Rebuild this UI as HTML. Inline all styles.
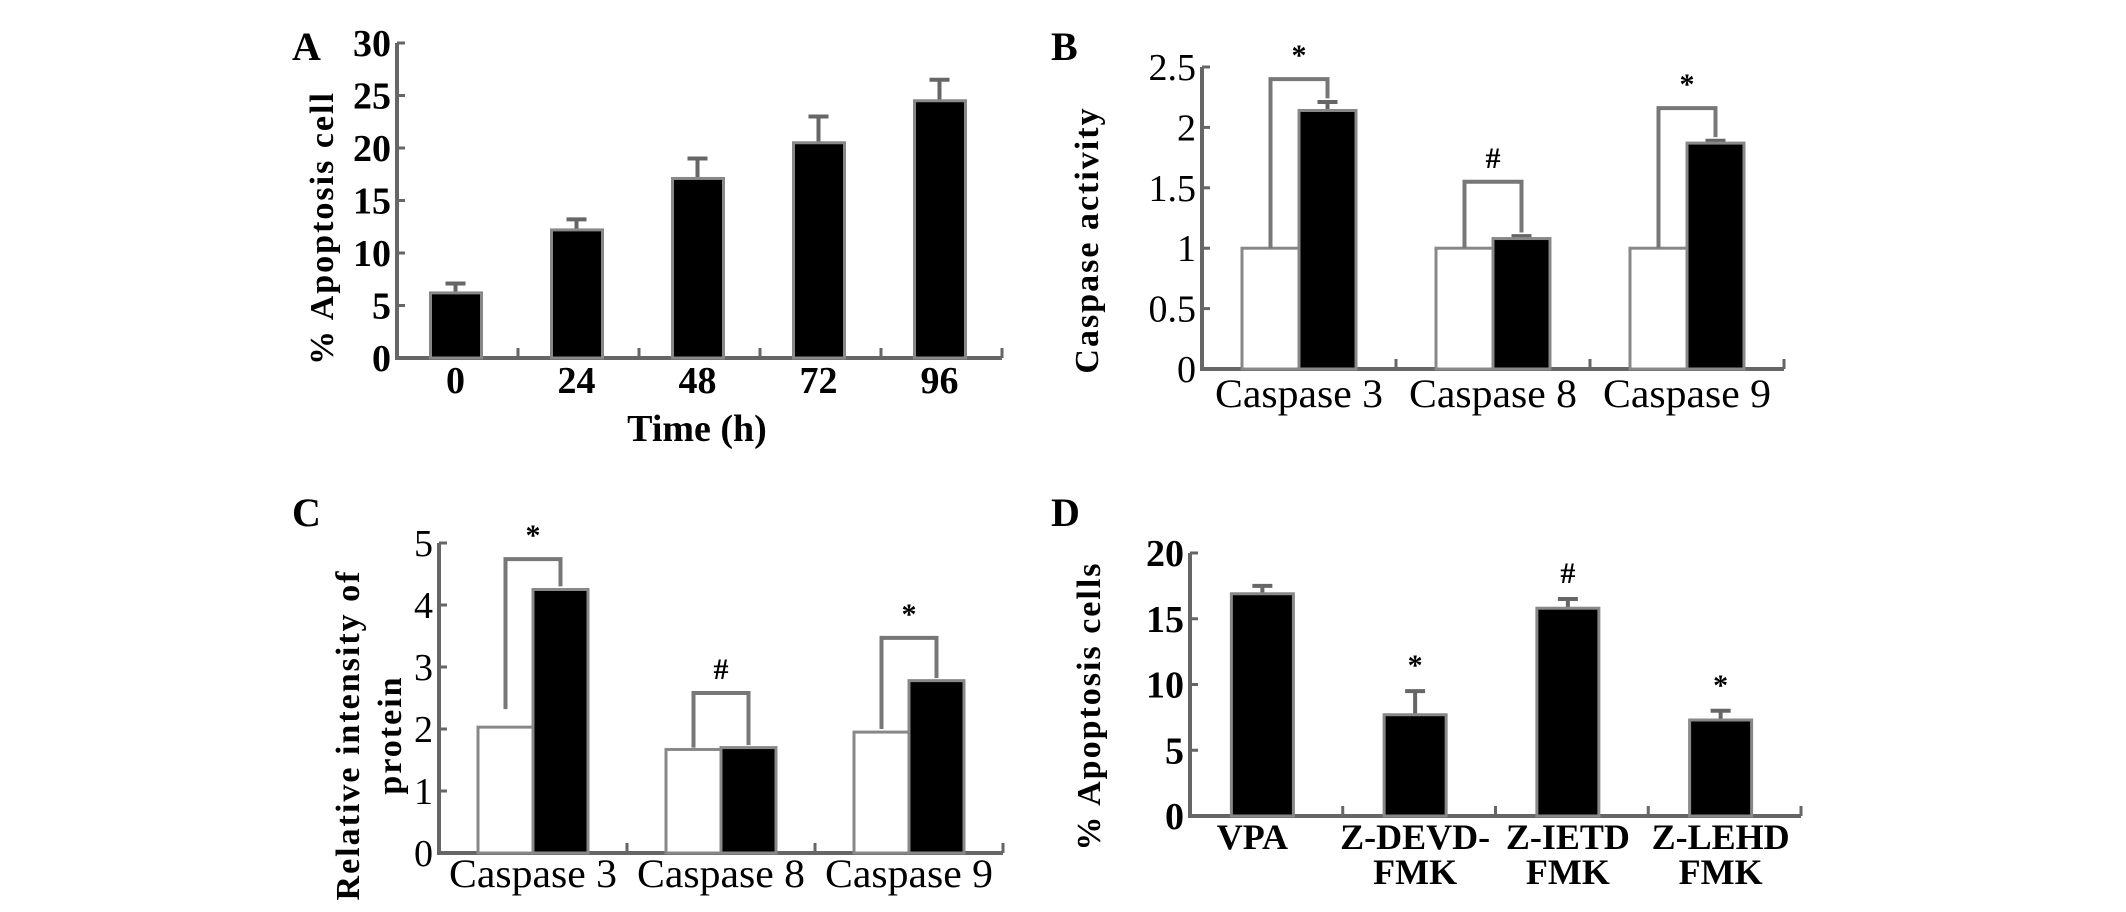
<!DOCTYPE html>
<html><head><meta charset="utf-8"><style>
html,body{margin:0;padding:0;background:#fff;}
svg{display:block;}
text{font-family:"Liberation Serif",serif;fill:#000;}
</style></head><body>
<svg id="fig" width="2126" height="912" viewBox="0 0 2126 912" xmlns="http://www.w3.org/2000/svg"></svg>
<script>
// Panel A data
const aCategories = ["0","24","48","72","96"];
const aValues = [6.2, 12.2, 17.1, 20.5, 24.5];
const aErrTop = [7.1, 13.2, 19.0, 23.0, 26.5];
const aTicks = [0,5,10,15,20,25,30];
// Panel B data
const bCategories = ["Caspase 3","Caspase 8","Caspase 9"];
const bControl = [1.0, 1.0, 1.0];
const bTreated = [2.14, 1.08, 1.87];
const bTreatedErr = [2.21, 1.10, 1.89];
const bBracket = [2.40, 1.55, 2.16];
const bMarks = ["*","#","*"];
const bTicks = [0,0.5,1,1.5,2,2.5];
const bTickLabels = ["0","0.5","1","1.5","2","2.5"];
// Panel C data
const cCategories = ["Caspase 3","Caspase 8","Caspase 9"];
const cControl = [2.03, 1.67, 1.95];
const cTreated = [4.25, 1.70, 2.78];
const cBracket = [4.74, 2.58, 3.47];
const cLegLeft = [2.32, 1.70, 2.0];
const cLegRight = [4.30, 1.74, 2.82];
const cMarks = ["*","#","*"];
const cTicks = [0,1,2,3,4,5];
// Panel D data
const dCategories = [["VPA"],["Z-DEVD-","FMK"],["Z-IETD","FMK"],["Z-LEHD","FMK"]];
const dValues = [16.9, 7.7, 15.8, 7.3];
const dErrTop = [17.5, 9.5, 16.5, 8.0];
const dMarks = ["","*","#","*"];
const dTicks = [0,5,10,15,20];

const NS="http://www.w3.org/2000/svg";
const svg=document.getElementById('fig');
const AX="#666";
function mk(tag,attrs,parent,txt){const e=document.createElementNS(NS,tag);for(const k in attrs)e.setAttribute(k,attrs[k]);if(txt!==undefined)e.textContent=txt;(parent||svg).appendChild(e);return e;}
function scale(v0,v1,p0,p1){return v=>p0+(v-v0)*(p1-p0)/(v1-v0);}

function axes(g,x0,x1,y,n,ticks,labels,tickFont,bold){
  let e=mk('line',{x1:x0,y1:y(0),x2:x1,y2:y(0),stroke:AX,'stroke-width':4},g);
  
  e=mk('line',{x1:x0,y1:y(0)+2,x2:x0,y2:y(ticks[ticks.length-1]),stroke:AX,'stroke-width':4},g);
  
  const bw=(x1-x0)/n;
  for(let i=1;i<=n;i++){e=mk('line',{x1:x0+bw*i,y1:y(0),x2:x0+bw*i,y2:y(0)-10,stroke:AX,'stroke-width':3},g);}
  ticks.forEach((t,i)=>{
    e=mk('line',{x1:x0,y1:y(t),x2:x0+8,y2:y(t),stroke:AX,'stroke-width':3},g);
    
    e=mk('text',{x:x0-6,y:y(t)+13,'text-anchor':'end','font-size':tickFont,'font-weight':bold?'bold':'normal'},g,labels[i]);
    
  });
  return bw;
}
function ylabel(g,x,y,lines,fs){
  lines.forEach((l,i)=>{
    const e=mk('text',{x:0,y:0,transform:`translate(${x+i*42},${y}) rotate(-90)`,'text-anchor':'middle','font-size':fs,'font-weight':'bold','letter-spacing':'2'},g,l);
    
  });
}
function panelLabel(x,y,t){const e=mk('text',{x:x,y:y,'font-size':40,'font-weight':'bold'},svg,t);}
function bar(g,x,w,y0,y1,fill,name){const e=mk('rect',{x:x,y:y1,width:w,height:y0-y1,fill:fill,stroke:'#888','stroke-width':3},g);}
function err(g,cx,yv,ye){const e=mk('path',{d:`M${cx},${yv}V${ye}M${cx-10},${ye}H${cx+10}`,stroke:AX,'stroke-width':4,fill:'none'},g);}

// Panel A
(function(){
  const g=mk('g',{}); 
  const x0=397,x1=1002,y=scale(0,30,358,43);
  const bw=axes(g,x0,x1,y,aCategories.length,aTicks,aTicks.map(String),38,true);
  aCategories.forEach((c,i)=>{
    const cx=x0+bw*(i+0.5)-2;
    err(g,cx,y(aValues[i]),y(aErrTop[i]));
    bar(g,cx-25,51,y(0),y(aValues[i]),'#000','bar-'+c+'h');
    const e=mk('text',{x:cx,y:393,'text-anchor':'middle','font-size':38,'font-weight':'bold'},g,c);
    
  });
  let e=mk('text',{x:697,y:441,'text-anchor':'middle','font-size':38,'font-weight':'bold'},g,'Time (h)');
  
  ylabel(g,333,228,['% Apoptosis cell'],34);
  panelLabel(292,60,'A');
})();

// grouped panels
function grouped(name,x0,x1,yb,yt,vmax,cats,ctrl,trt,errT,brk,legL,legR,marks,ticks,tlabels,xlabY,bwid){
  const g=mk('g',{}); 
  const y=scale(0,vmax,yb,yt);
  const bw=axes(g,x0,x1,y,cats.length,ticks,tlabels,38,false);
  cats.forEach((c,i)=>{
    const cx=x0+bw*(i+0.5);
    if(errT) err(g,cx+bwid/2,y(trt[i]),y(errT[i]));
    bar(g,cx-bwid,bwid,y(0),y(ctrl[i]),'#fff','bar-control-'+c.replace(' ','').toLowerCase());
    bar(g,cx,bwid,y(0),y(trt[i]),'#000','bar-treated-'+c.replace(' ','').toLowerCase());
    const lx=cx-bwid/2, rx=cx+bwid/2;
    let e=mk('path',{d:`M${lx},${y(legL[i])}V${y(brk[i])}H${rx}V${y(legR[i])}`,stroke:'#777','stroke-width':4,fill:'none'},g);
    
    e=mk('text',{x:cx,y:y(brk[i])-14,'text-anchor':'middle','font-size':30,'font-weight':'bold'},g,marks[i]);
    
    e=mk('text',{x:cx,y:xlabY,'text-anchor':'middle','font-size':40,textLength:168,lengthAdjust:'spacingAndGlyphs'},g,c);
    
  });
  return g;
}
(function(){
  const g=grouped('panel-b',1202,1784,369,67,2.5,bCategories,bControl,bTreated,bTreatedErr,bBracket,bControl,bTreatedErr.map(v=>v+0.03),bMarks,bTicks,bTickLabels,407,57);
  ylabel(g,1098,240,['Caspase activity'],34);
  panelLabel(1051,60,'B');
})();
(function(){
  const g=grouped('panel-c',439,1003,853,543,5,cCategories,cControl,cTreated,null,cBracket,cLegLeft,cLegRight,cMarks,cTicks,cTicks.map(String),887,55);
  ylabel(g,359,735,['Relative intensity of','protein'],34);
  panelLabel(292,526,'C');
})();

// Panel D
(function(){
  const g=mk('g',{}); 
  const x0=1190,x1=1801,y=scale(0,20,816,553);
  const bw=axes(g,x0,x1,y,dCategories.length,dTicks,dTicks.map(String),38,true);
  dCategories.forEach((c,i)=>{
    const cx=x0+bw*(i+0.5)-4;
    err(g,cx,y(dValues[i]),y(dErrTop[i]));
    bar(g,cx-31,62,y(0),y(dValues[i]),'#000','bar-'+c.join('').toLowerCase());
    if(dMarks[i]){const e=mk('text',{x:cx,y:y(dErrTop[i])-16,'text-anchor':'middle','font-size':30,'font-weight':'bold'},g,dMarks[i]);}
    c.forEach((l,j)=>{
      const e=mk('text',{x:cx+(i==0?-10:0),y:849+j*35,'text-anchor':'middle','font-size':36,'font-weight':'bold'},g,l);
      
    });
  });
  ylabel(g,1100,706,['% Apoptosis cells'],34);
  panelLabel(1051,526,'D');
})();
</script>
</body></html>
